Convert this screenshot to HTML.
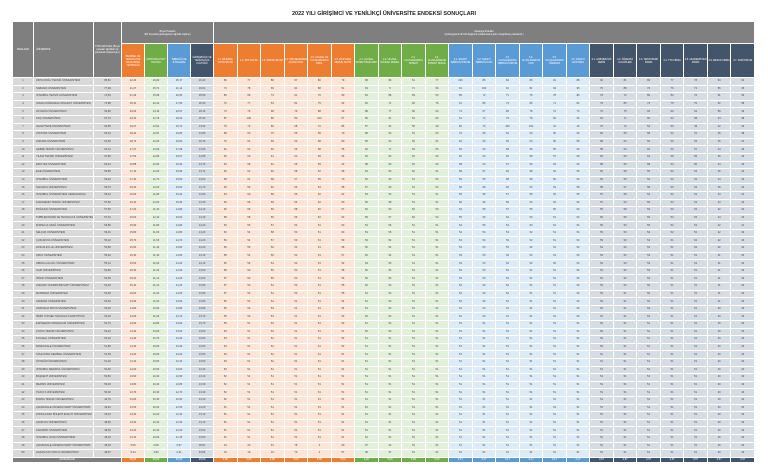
<!DOCTYPE html>
<html><head><meta charset="utf-8"><style>
body{margin:0;width:768px;height:475px;background:#fff;overflow:hidden;font-family:"Liberation Sans",sans-serif}
h1{position:absolute;top:11px;left:0;width:768px;text-align:center;font-size:5.5px;font-weight:bold;margin:0;color:#222}
table{position:absolute;left:12px;top:21px;width:743px;border-collapse:collapse;table-layout:fixed}
td{border:1px solid #fff;padding:0;font-size:2.6px;line-height:4px;text-align:center;overflow:hidden;white-space:nowrap;color:#444}
tr.d td{height:6.6px}
tr.d td:nth-child(2){text-align:left;padding-left:2px}
.h td{color:#fff;white-space:normal;font-size:2.4px;line-height:3px}
.g{background:#7f7f7f}.o{background:#ed7d31}.gr{background:#70ad47}.b{background:#5b9bd5}.n{background:#44546a}
col.c0{background:#d9d9d9}col.co{background:#fce4d6}col.cg{background:#e2efda}col.cb{background:#ddebf7}col.cn{background:#d6dce4}
tr.w td{height:4px;color:#fff}
</style></head><body>
<h1>2022 YILI GİRİŞİMCİ VE YENİLİKÇİ ÜNİVERSİTE ENDEKSİ SONUÇLARI</h1>
<table>
<colgroup><col class="c0" style="width:21px"><col class="c0" style="width:60px"><col class="c0" style="width:28px">
<col class="co" style="width:23px"><col class="cg" style="width:23px"><col class="cb" style="width:23px"><col class="cn" style="width:23px">
<col class="co"><col class="co"><col class="co"><col class="co"><col class="co"><col class="co">
<col class="cg"><col class="cg"><col class="cg"><col class="cg">
<col class="cb"><col class="cb"><col class="cb"><col class="cb"><col class="cb"><col class="cb">
<col class="cn"><col class="cn"><col class="cn"><col class="cn"><col class="cn"><col class="cn"><col class="cn">
</colgroup>
<tr class="h" style="height:22px"><td class="g" rowspan="2">SIRALAMA</td><td class="g" rowspan="2" style="text-align:left;padding-left:2px">ÜNİVERSİTE</td><td class="g" rowspan="2">TOPLAM PUAN (Boyut puanları ağırlıkları ile çarpılarak toplanmıştır.)</td><td class="g" colspan="4">Boyut Puanları<br>(Bir boyuttaki göstergelerin ağırlıklı toplamı)</td><td class="g" colspan="23">Gösterge Puanları<br>(Göstergelerin ilk 100 değerinin ortalamasına göre hesaplanan puanlardır.)</td></tr>
<tr class="h" style="height:34px"><td class="o">BİLİMSEL VE TEKNOLOJİK ARAŞTIRMA YETKİNLİĞİ</td><td class="gr">FİKRİ MÜLKİYET HAVUZU</td><td class="b">İŞBİRLİĞİ VE ETKİLEŞİM</td><td class="n">GİRİŞİMCİLİK VE YENİLİKÇİLİK KÜLTÜRÜ</td>
<td class="o">1.1. BİLİMSEL YAYIN SAYISI</td><td class="o">1.2. ATIF SAYISI</td><td class="o">1.3. PROJE SAYISI</td><td class="o">1.4. PROJELERDEN ALINAN FON</td><td class="o">1.5. ULUSAL VE ULUSLARARASI ÖDÜL</td><td class="o">1.6. DOKTORA MEZUN SAYISI</td>
<td class="gr">2.1. ULUSAL PATENT BAŞVURU</td><td class="gr">2.2. ULUSAL FAYDALI MODEL</td><td class="gr">2.3. ULUSLARARASI PATENT</td><td class="gr">2.4. ULUSLARARASI PATENT TESCİL</td>
<td class="b">3.1. SANAYİ İŞBİRLİĞİ PROJE</td><td class="b">3.2. SANAYİ İŞBİRLİĞİ FON</td><td class="b">3.3. ULUSLARARASI İŞBİRLİĞİ PROJE</td><td class="b">3.4. ULUSLARARASI FON</td><td class="b">3.5. ULUSLARARASI ÖĞRENCİ</td><td class="b">3.6. SANAYİ DOKTORA</td>
<td class="n">4.1. GİRİŞİMCİLİK DERSİ</td><td class="n">4.2. ÖĞRENCİ KULÜPLERİ</td><td class="n">4.3. TEKNOPARK FİRMA</td><td class="n">4.4. TTO FİRMA</td><td class="n">4.5. AKADEMİSYEN FİRMA</td><td class="n">4.6. MEZUN FİRMA</td><td class="n">4.7. KOBİ PROJE</td></tr>
<tr class="d"><td>1</td><td>ORTA DOĞU TEKNİK ÜNİVERSİTESİ</td><td>85,61</td><td>22,20</td><td>16,00</td><td>25,17</td><td>16,40</td><td>80</td><td>77</td><td>86</td><td>97</td><td>80</td><td>79</td><td>68</td><td>96</td><td>51</td><td>77</td><td>100</td><td>86</td><td>82</td><td>80</td><td>91</td><td>88</td><td>92</td><td>81</td><td>82</td><td>77</td><td>78</td><td>64</td><td>62</td></tr>
<tr class="d"><td>2</td><td>SABANCI ÜNİVERSİTESİ</td><td>77,09</td><td>21,27</td><td>15,71</td><td>21,11</td><td>19,01</td><td>74</td><td>78</td><td>69</td><td>91</td><td>88</td><td>51</td><td>63</td><td>5</td><td>71</td><td>96</td><td>91</td><td>100</td><td>91</td><td>81</td><td>93</td><td>95</td><td>70</td><td>88</td><td>72</td><td>76</td><td>71</td><td>56</td><td>45</td></tr>
<tr class="d"><td>3</td><td>İSTANBUL TEKNİK ÜNİVERSİTESİ</td><td>74,53</td><td>21,39</td><td>15,08</td><td>20,54</td><td>18,60</td><td>80</td><td>68</td><td>73</td><td>61</td><td>70</td><td>90</td><td>62</td><td>88</td><td>63</td><td>63</td><td>85</td><td>72</td><td>71</td><td>75</td><td>78</td><td>80</td><td>78</td><td>72</td><td>80</td><td>82</td><td>76</td><td>61</td><td>59</td></tr>
<tr class="d"><td>4</td><td>İHSAN DOĞRAMACI BİLKENT ÜNİVERSİTESİ</td><td>73,88</td><td>18,41</td><td>16,14</td><td>17,60</td><td>18,30</td><td>70</td><td>77</td><td>53</td><td>81</td><td>75</td><td>62</td><td>60</td><td>71</td><td>60</td><td>76</td><td>61</td><td>85</td><td>73</td><td>80</td><td>71</td><td>82</td><td>79</td><td>85</td><td>72</td><td>75</td><td>70</td><td>52</td><td>58</td></tr>
<tr class="d"><td>5</td><td>ÖZYEĞİN ÜNİVERSİTESİ</td><td>69,80</td><td>19,24</td><td>14,16</td><td>20,07</td><td>18,16</td><td>73</td><td>76</td><td>68</td><td>76</td><td>88</td><td>49</td><td>58</td><td>77</td><td>56</td><td>64</td><td>74</td><td>67</td><td>80</td><td>78</td><td>72</td><td>74</td><td>70</td><td>75</td><td>66</td><td>69</td><td>62</td><td>58</td><td>49</td></tr>
<tr class="d"><td>6</td><td>KOÇ ÜNİVERSİTESİ</td><td>67,73</td><td>22,30</td><td>12,79</td><td>18,23</td><td>15,32</td><td>87</td><td>100</td><td>68</td><td>80</td><td>100</td><td>57</td><td>60</td><td>51</td><td>54</td><td>66</td><td>51</td><td>73</td><td>79</td><td>78</td><td>92</td><td>64</td><td>63</td><td>71</td><td>60</td><td>62</td><td>58</td><td>44</td><td>38</td></tr>
<tr class="d"><td>7</td><td>HACETTEPE ÜNİVERSİTESİ</td><td>63,85</td><td>19,67</td><td>12,91</td><td>16,72</td><td>14,54</td><td>79</td><td>72</td><td>66</td><td>68</td><td>72</td><td>86</td><td>57</td><td>52</td><td>55</td><td>49</td><td>60</td><td>70</td><td>100</td><td>100</td><td>41</td><td>40</td><td>70</td><td>72</td><td>52</td><td>50</td><td>49</td><td>42</td><td>43</td></tr>
<tr class="d"><td>8</td><td>ATATÜRK ÜNİVERSİTESİ</td><td>63,10</td><td>18,42</td><td>12,97</td><td>16,85</td><td>14,86</td><td>68</td><td>60</td><td>75</td><td>55</td><td>56</td><td>70</td><td>58</td><td>63</td><td>51</td><td>60</td><td>70</td><td>68</td><td>62</td><td>60</td><td>56</td><td>66</td><td>60</td><td>55</td><td>58</td><td>52</td><td>51</td><td>45</td><td>48</td></tr>
<tr class="d"><td>9</td><td>ANKARA ÜNİVERSİTESİ</td><td>62,50</td><td>18,74</td><td>12,00</td><td>16,60</td><td>15,16</td><td>70</td><td>64</td><td>69</td><td>62</td><td>58</td><td>80</td><td>55</td><td>52</td><td>53</td><td>51</td><td>62</td><td>60</td><td>65</td><td>63</td><td>60</td><td>58</td><td>68</td><td>62</td><td>56</td><td>50</td><td>54</td><td>46</td><td>41</td></tr>
<tr class="d"><td>10</td><td>GEBZE TEKNİK ÜNİVERSİTESİ</td><td>62,10</td><td>17,27</td><td>13,09</td><td>17,08</td><td>14,66</td><td>62</td><td>62</td><td>60</td><td>65</td><td>58</td><td>56</td><td>62</td><td>71</td><td>54</td><td>55</td><td>65</td><td>66</td><td>58</td><td>56</td><td>55</td><td>60</td><td>58</td><td>54</td><td>62</td><td>60</td><td>57</td><td>44</td><td>46</td></tr>
<tr class="d"><td>11</td><td>YILDIZ TEKNİK ÜNİVERSİTESİ</td><td>61,80</td><td>17,52</td><td>12,86</td><td>16,57</td><td>14,85</td><td>65</td><td>60</td><td>61</td><td>62</td><td>56</td><td>66</td><td>60</td><td>63</td><td>52</td><td>54</td><td>60</td><td>62</td><td>60</td><td>58</td><td>57</td><td>59</td><td>60</td><td>60</td><td>62</td><td>58</td><td>55</td><td>45</td><td>42</td></tr>
<tr class="d"><td>12</td><td>ERCİYES ÜNİVERSİTESİ</td><td>60,44</td><td>16,88</td><td>12,50</td><td>16,30</td><td>14,76</td><td>63</td><td>58</td><td>62</td><td>55</td><td>55</td><td>62</td><td>58</td><td>60</td><td>52</td><td>52</td><td>58</td><td>60</td><td>57</td><td>56</td><td>54</td><td>60</td><td>58</td><td>56</td><td>58</td><td>54</td><td>56</td><td>44</td><td>40</td></tr>
<tr class="d"><td>13</td><td>EGE ÜNİVERSİTESİ</td><td>59,80</td><td>17,10</td><td>12,00</td><td>15,96</td><td>14,74</td><td>66</td><td>62</td><td>60</td><td>58</td><td>52</td><td>68</td><td>54</td><td>53</td><td>52</td><td>51</td><td>58</td><td>57</td><td>60</td><td>58</td><td>52</td><td>55</td><td>60</td><td>58</td><td>55</td><td>52</td><td>54</td><td>46</td><td>44</td></tr>
<tr class="d"><td>14</td><td>İSTANBUL ÜNİVERSİTESİ</td><td>59,20</td><td>17,40</td><td>11,70</td><td>15,50</td><td>14,60</td><td>68</td><td>64</td><td>58</td><td>57</td><td>55</td><td>70</td><td>52</td><td>50</td><td>51</td><td>50</td><td>55</td><td>55</td><td>58</td><td>56</td><td>56</td><td>54</td><td>62</td><td>55</td><td>54</td><td>52</td><td>52</td><td>44</td><td>42</td></tr>
<tr class="d"><td>15</td><td>SAKARYA ÜNİVERSİTESİ</td><td>58,70</td><td>16,20</td><td>12,20</td><td>15,60</td><td>14,70</td><td>60</td><td>56</td><td>60</td><td>55</td><td>53</td><td>58</td><td>57</td><td>60</td><td>51</td><td>52</td><td>56</td><td>58</td><td>56</td><td>54</td><td>53</td><td>58</td><td>58</td><td>57</td><td>58</td><td>55</td><td>54</td><td>45</td><td>44</td></tr>
<tr class="d"><td>16</td><td>İSTANBUL ÜNİVERSİTESİ-CERRAHPAŞA</td><td>58,10</td><td>16,60</td><td>11,80</td><td>15,20</td><td>14,50</td><td>64</td><td>60</td><td>58</td><td>56</td><td>52</td><td>62</td><td>53</td><td>52</td><td>51</td><td>51</td><td>55</td><td>56</td><td>57</td><td>55</td><td>52</td><td>55</td><td>57</td><td>55</td><td>54</td><td>52</td><td>53</td><td>43</td><td>41</td></tr>
<tr class="d"><td>17</td><td>KARADENİZ TEKNİK ÜNİVERSİTESİ</td><td>57,80</td><td>16,10</td><td>12,00</td><td>15,30</td><td>14,40</td><td>60</td><td>56</td><td>59</td><td>54</td><td>52</td><td>60</td><td>55</td><td>58</td><td>51</td><td>51</td><td>56</td><td>56</td><td>55</td><td>54</td><td>52</td><td>56</td><td>57</td><td>54</td><td>56</td><td>53</td><td>53</td><td>43</td><td>42</td></tr>
<tr class="d"><td>18</td><td>BOĞAZİÇİ ÜNİVERSİTESİ</td><td>57,50</td><td>17,20</td><td>11,40</td><td>14,80</td><td>14,10</td><td>66</td><td>66</td><td>56</td><td>58</td><td>60</td><td>57</td><td>52</td><td>50</td><td>52</td><td>50</td><td>53</td><td>55</td><td>57</td><td>55</td><td>56</td><td>52</td><td>55</td><td>58</td><td>52</td><td>50</td><td>52</td><td>42</td><td>40</td></tr>
<tr class="d"><td>19</td><td>TOBB EKONOMİ VE TEKNOLOJİ ÜNİVERSİTESİ</td><td>57,10</td><td>15,60</td><td>12,10</td><td>15,00</td><td>14,40</td><td>58</td><td>58</td><td>55</td><td>56</td><td>52</td><td>52</td><td>56</td><td>57</td><td>52</td><td>52</td><td>55</td><td>56</td><td>54</td><td>53</td><td>51</td><td>54</td><td>56</td><td>55</td><td>56</td><td>53</td><td>54</td><td>44</td><td>42</td></tr>
<tr class="d"><td>20</td><td>BURSA ULUDAĞ ÜNİVERSİTESİ</td><td>56,80</td><td>15,90</td><td>11,80</td><td>14,90</td><td>14,20</td><td>60</td><td>55</td><td>57</td><td>54</td><td>51</td><td>60</td><td>54</td><td>56</td><td>51</td><td>51</td><td>54</td><td>55</td><td>54</td><td>53</td><td>51</td><td>54</td><td>55</td><td>53</td><td>55</td><td>52</td><td>52</td><td>42</td><td>41</td></tr>
<tr class="d"><td>21</td><td>SELÇUK ÜNİVERSİTESİ</td><td>56,40</td><td>15,80</td><td>11,60</td><td>14,80</td><td>14,20</td><td>60</td><td>54</td><td>58</td><td>53</td><td>51</td><td>60</td><td>53</td><td>55</td><td>51</td><td>51</td><td>54</td><td>54</td><td>53</td><td>52</td><td>51</td><td>54</td><td>55</td><td>53</td><td>54</td><td>52</td><td>52</td><td>42</td><td>40</td></tr>
<tr class="d"><td>22</td><td>ÇUKUROVA ÜNİVERSİTESİ</td><td>56,10</td><td>15,70</td><td>11,50</td><td>14,70</td><td>14,20</td><td>59</td><td>54</td><td>57</td><td>53</td><td>51</td><td>59</td><td>53</td><td>54</td><td>51</td><td>51</td><td>53</td><td>54</td><td>53</td><td>52</td><td>51</td><td>53</td><td>55</td><td>52</td><td>54</td><td>51</td><td>52</td><td>42</td><td>40</td></tr>
<tr class="d"><td>23</td><td>DOKUZ EYLÜL ÜNİVERSİTESİ</td><td>55,80</td><td>15,60</td><td>11,40</td><td>14,60</td><td>14,20</td><td>59</td><td>55</td><td>56</td><td>53</td><td>51</td><td>58</td><td>52</td><td>54</td><td>51</td><td>51</td><td>53</td><td>53</td><td>53</td><td>52</td><td>51</td><td>53</td><td>54</td><td>52</td><td>53</td><td>51</td><td>52</td><td>42</td><td>40</td></tr>
<tr class="d"><td>24</td><td>FIRAT ÜNİVERSİTESİ</td><td>55,40</td><td>15,40</td><td>11,40</td><td>14,50</td><td>14,10</td><td>58</td><td>54</td><td>56</td><td>52</td><td>51</td><td>57</td><td>52</td><td>54</td><td>51</td><td>51</td><td>53</td><td>53</td><td>52</td><td>52</td><td>51</td><td>53</td><td>54</td><td>52</td><td>53</td><td>51</td><td>51</td><td>41</td><td>40</td></tr>
<tr class="d"><td>25</td><td>ABDULLAH GÜL ÜNİVERSİTESİ</td><td>55,10</td><td>15,00</td><td>11,60</td><td>14,40</td><td>14,10</td><td>56</td><td>56</td><td>54</td><td>52</td><td>51</td><td>52</td><td>53</td><td>55</td><td>51</td><td>51</td><td>53</td><td>53</td><td>52</td><td>52</td><td>52</td><td>53</td><td>54</td><td>53</td><td>53</td><td>51</td><td>51</td><td>41</td><td>40</td></tr>
<tr class="d"><td>26</td><td>GAZİ ÜNİVERSİTESİ</td><td>54,80</td><td>15,30</td><td>11,20</td><td>14,30</td><td>14,00</td><td>58</td><td>53</td><td>55</td><td>52</td><td>51</td><td>58</td><td>52</td><td>53</td><td>51</td><td>51</td><td>52</td><td>53</td><td>52</td><td>51</td><td>51</td><td>52</td><td>54</td><td>52</td><td>53</td><td>51</td><td>51</td><td>41</td><td>40</td></tr>
<tr class="d"><td>27</td><td>İNÖNÜ ÜNİVERSİTESİ</td><td>54,50</td><td>15,20</td><td>11,10</td><td>14,20</td><td>14,00</td><td>57</td><td>53</td><td>55</td><td>52</td><td>51</td><td>56</td><td>52</td><td>53</td><td>51</td><td>51</td><td>52</td><td>52</td><td>52</td><td>51</td><td>51</td><td>52</td><td>53</td><td>52</td><td>52</td><td>51</td><td>51</td><td>41</td><td>40</td></tr>
<tr class="d"><td>28</td><td>ANKARA YILDIRIM BEYAZIT ÜNİVERSİTESİ</td><td>54,20</td><td>15,10</td><td>11,10</td><td>14,10</td><td>13,90</td><td>57</td><td>53</td><td>54</td><td>52</td><td>51</td><td>55</td><td>52</td><td>53</td><td>51</td><td>51</td><td>52</td><td>52</td><td>52</td><td>51</td><td>51</td><td>52</td><td>53</td><td>52</td><td>52</td><td>51</td><td>51</td><td>41</td><td>40</td></tr>
<tr class="d"><td>29</td><td>MARMARA ÜNİVERSİTESİ</td><td>53,90</td><td>15,00</td><td>11,00</td><td>14,00</td><td>13,90</td><td>57</td><td>52</td><td>54</td><td>52</td><td>51</td><td>55</td><td>51</td><td>52</td><td>51</td><td>51</td><td>52</td><td>52</td><td>52</td><td>51</td><td>51</td><td>52</td><td>53</td><td>51</td><td>52</td><td>51</td><td>51</td><td>41</td><td>40</td></tr>
<tr class="d"><td>30</td><td>AKDENİZ ÜNİVERSİTESİ</td><td>53,60</td><td>14,90</td><td>11,00</td><td>13,90</td><td>13,80</td><td>56</td><td>52</td><td>54</td><td>51</td><td>51</td><td>54</td><td>51</td><td>52</td><td>51</td><td>51</td><td>52</td><td>52</td><td>51</td><td>51</td><td>51</td><td>52</td><td>53</td><td>51</td><td>52</td><td>51</td><td>51</td><td>41</td><td>40</td></tr>
<tr class="d"><td>31</td><td>ONDOKUZ MAYIS ÜNİVERSİTESİ</td><td>53,30</td><td>14,80</td><td>10,90</td><td>13,80</td><td>13,80</td><td>56</td><td>52</td><td>53</td><td>51</td><td>51</td><td>54</td><td>51</td><td>52</td><td>51</td><td>51</td><td>51</td><td>52</td><td>51</td><td>51</td><td>51</td><td>52</td><td>52</td><td>51</td><td>52</td><td>51</td><td>51</td><td>40</td><td>40</td></tr>
<tr class="d"><td>32</td><td>İZMİR YÜKSEK TEKNOLOJİ ENSTİTÜSÜ</td><td>53,00</td><td>14,60</td><td>11,00</td><td>13,70</td><td>13,70</td><td>55</td><td>53</td><td>53</td><td>51</td><td>51</td><td>52</td><td>52</td><td>52</td><td>51</td><td>51</td><td>51</td><td>52</td><td>51</td><td>51</td><td>51</td><td>52</td><td>52</td><td>51</td><td>52</td><td>51</td><td>51</td><td>40</td><td>40</td></tr>
<tr class="d"><td>33</td><td>ESKİŞEHİR OSMANGAZİ ÜNİVERSİTESİ</td><td>52,70</td><td>14,60</td><td>10,80</td><td>13,60</td><td>13,70</td><td>55</td><td>51</td><td>53</td><td>51</td><td>51</td><td>53</td><td>51</td><td>52</td><td>51</td><td>51</td><td>51</td><td>51</td><td>51</td><td>51</td><td>51</td><td>51</td><td>52</td><td>51</td><td>51</td><td>51</td><td>51</td><td>40</td><td>40</td></tr>
<tr class="d"><td>34</td><td>KONYA TEKNİK ÜNİVERSİTESİ</td><td>52,40</td><td>14,40</td><td>10,90</td><td>13,50</td><td>13,60</td><td>54</td><td>51</td><td>53</td><td>51</td><td>51</td><td>51</td><td>52</td><td>52</td><td>51</td><td>51</td><td>51</td><td>51</td><td>51</td><td>51</td><td>51</td><td>51</td><td>52</td><td>51</td><td>51</td><td>51</td><td>51</td><td>40</td><td>40</td></tr>
<tr class="d"><td>35</td><td>KOCAELİ ÜNİVERSİTESİ</td><td>52,10</td><td>14,40</td><td>10,70</td><td>13,40</td><td>13,60</td><td>54</td><td>51</td><td>52</td><td>51</td><td>51</td><td>52</td><td>51</td><td>51</td><td>51</td><td>51</td><td>51</td><td>51</td><td>51</td><td>51</td><td>51</td><td>51</td><td>52</td><td>51</td><td>51</td><td>51</td><td>51</td><td>40</td><td>40</td></tr>
<tr class="d"><td>36</td><td>PAMUKKALE ÜNİVERSİTESİ</td><td>51,80</td><td>14,30</td><td>10,60</td><td>13,30</td><td>13,60</td><td>54</td><td>51</td><td>52</td><td>51</td><td>51</td><td>52</td><td>51</td><td>51</td><td>51</td><td>51</td><td>51</td><td>51</td><td>51</td><td>51</td><td>51</td><td>51</td><td>52</td><td>51</td><td>51</td><td>51</td><td>51</td><td>40</td><td>40</td></tr>
<tr class="d"><td>37</td><td>SÜLEYMAN DEMİREL ÜNİVERSİTESİ</td><td>51,50</td><td>14,20</td><td>10,60</td><td>13,20</td><td>13,50</td><td>53</td><td>51</td><td>52</td><td>51</td><td>51</td><td>51</td><td>51</td><td>51</td><td>51</td><td>51</td><td>51</td><td>51</td><td>51</td><td>51</td><td>51</td><td>51</td><td>51</td><td>51</td><td>51</td><td>51</td><td>51</td><td>40</td><td>40</td></tr>
<tr class="d"><td>38</td><td>ÖZYEĞİN ÜNİVERSİTESİ</td><td>51,20</td><td>14,10</td><td>10,50</td><td>13,10</td><td>13,50</td><td>53</td><td>51</td><td>52</td><td>51</td><td>51</td><td>51</td><td>51</td><td>51</td><td>51</td><td>51</td><td>51</td><td>51</td><td>51</td><td>51</td><td>51</td><td>51</td><td>51</td><td>51</td><td>51</td><td>51</td><td>51</td><td>40</td><td>40</td></tr>
<tr class="d"><td>39</td><td>İSTANBUL MEDİPOL ÜNİVERSİTESİ</td><td>50,90</td><td>14,00</td><td>10,50</td><td>13,00</td><td>13,40</td><td>53</td><td>51</td><td>51</td><td>51</td><td>51</td><td>51</td><td>51</td><td>51</td><td>51</td><td>51</td><td>51</td><td>51</td><td>51</td><td>51</td><td>51</td><td>51</td><td>51</td><td>51</td><td>51</td><td>51</td><td>51</td><td>40</td><td>40</td></tr>
<tr class="d"><td>40</td><td>BAŞKENT ÜNİVERSİTESİ</td><td>50,60</td><td>13,90</td><td>10,40</td><td>12,90</td><td>13,40</td><td>52</td><td>51</td><td>51</td><td>51</td><td>51</td><td>51</td><td>51</td><td>51</td><td>51</td><td>51</td><td>51</td><td>51</td><td>51</td><td>51</td><td>51</td><td>51</td><td>51</td><td>51</td><td>51</td><td>51</td><td>51</td><td>40</td><td>40</td></tr>
<tr class="d"><td>41</td><td>MERSİN ÜNİVERSİTESİ</td><td>50,30</td><td>13,80</td><td>10,40</td><td>12,80</td><td>13,30</td><td>52</td><td>51</td><td>51</td><td>51</td><td>51</td><td>51</td><td>51</td><td>51</td><td>51</td><td>51</td><td>51</td><td>51</td><td>51</td><td>51</td><td>51</td><td>51</td><td>51</td><td>51</td><td>51</td><td>51</td><td>51</td><td>40</td><td>40</td></tr>
<tr class="d"><td>42</td><td>TRAKYA ÜNİVERSİTESİ</td><td>50,00</td><td>13,70</td><td>10,30</td><td>12,70</td><td>13,30</td><td>52</td><td>51</td><td>51</td><td>51</td><td>51</td><td>51</td><td>51</td><td>51</td><td>51</td><td>51</td><td>51</td><td>51</td><td>51</td><td>51</td><td>51</td><td>51</td><td>51</td><td>51</td><td>51</td><td>51</td><td>51</td><td>40</td><td>40</td></tr>
<tr class="d"><td>43</td><td>BURSA TEKNİK ÜNİVERSİTESİ</td><td>49,70</td><td>13,60</td><td>10,30</td><td>12,60</td><td>13,20</td><td>52</td><td>51</td><td>51</td><td>51</td><td>51</td><td>51</td><td>51</td><td>51</td><td>51</td><td>51</td><td>51</td><td>51</td><td>51</td><td>51</td><td>51</td><td>51</td><td>51</td><td>51</td><td>51</td><td>51</td><td>51</td><td>40</td><td>40</td></tr>
<tr class="d"><td>44</td><td>ÇANAKKALE ONSEKİZ MART ÜNİVERSİTESİ</td><td>49,40</td><td>13,50</td><td>10,20</td><td>12,50</td><td>13,20</td><td>51</td><td>51</td><td>51</td><td>51</td><td>51</td><td>51</td><td>51</td><td>51</td><td>51</td><td>51</td><td>51</td><td>51</td><td>51</td><td>51</td><td>51</td><td>51</td><td>51</td><td>51</td><td>51</td><td>51</td><td>51</td><td>40</td><td>40</td></tr>
<tr class="d"><td>45</td><td>ZONGULDAK BÜLENT ECEVİT ÜNİVERSİTESİ</td><td>49,10</td><td>13,40</td><td>10,20</td><td>12,40</td><td>13,10</td><td>51</td><td>51</td><td>51</td><td>51</td><td>51</td><td>51</td><td>51</td><td>51</td><td>51</td><td>51</td><td>51</td><td>51</td><td>51</td><td>51</td><td>51</td><td>51</td><td>51</td><td>51</td><td>51</td><td>51</td><td>51</td><td>40</td><td>40</td></tr>
<tr class="d"><td>46</td><td>ÇANKAYA ÜNİVERSİTESİ</td><td>48,80</td><td>13,30</td><td>10,10</td><td>12,30</td><td>13,10</td><td>51</td><td>51</td><td>51</td><td>51</td><td>51</td><td>51</td><td>51</td><td>51</td><td>51</td><td>51</td><td>51</td><td>51</td><td>51</td><td>51</td><td>51</td><td>51</td><td>51</td><td>51</td><td>51</td><td>51</td><td>51</td><td>40</td><td>40</td></tr>
<tr class="d"><td>47</td><td>KARABÜK ÜNİVERSİTESİ</td><td>48,50</td><td>13,20</td><td>10,10</td><td>12,20</td><td>13,00</td><td>51</td><td>51</td><td>51</td><td>51</td><td>51</td><td>51</td><td>51</td><td>51</td><td>51</td><td>51</td><td>51</td><td>51</td><td>51</td><td>51</td><td>51</td><td>51</td><td>51</td><td>51</td><td>51</td><td>51</td><td>51</td><td>40</td><td>40</td></tr>
<tr class="d"><td>48</td><td>İSTANBUL OKAN ÜNİVERSİTESİ</td><td>48,20</td><td>13,10</td><td>10,00</td><td>12,10</td><td>13,00</td><td>51</td><td>51</td><td>51</td><td>51</td><td>51</td><td>51</td><td>51</td><td>51</td><td>51</td><td>51</td><td>51</td><td>51</td><td>51</td><td>51</td><td>51</td><td>51</td><td>51</td><td>51</td><td>51</td><td>51</td><td>51</td><td>40</td><td>40</td></tr>
<tr class="d"><td>49</td><td>ÇANAKKALE ONSEKİZ MART ÜNİVERSİTESİ</td><td>48,03</td><td>5,59</td><td>6,08</td><td>6,97</td><td>18,01</td><td>24</td><td>23</td><td>31</td><td>78</td><td>4</td><td>60</td><td>37</td><td>22</td><td>51</td><td>51</td><td>51</td><td>51</td><td>51</td><td>51</td><td>51</td><td>51</td><td>51</td><td>51</td><td>51</td><td>51</td><td>51</td><td>40</td><td>40</td></tr>
<tr class="d"><td>50</td><td>HASAN KALYONCU ÜNİVERSİTESİ</td><td>48,07</td><td>5,34</td><td>4,80</td><td>6,41</td><td>30,86</td><td>15</td><td>19</td><td>16</td><td>70</td><td>4</td><td>57</td><td>38</td><td>37</td><td>51</td><td>51</td><td>51</td><td>51</td><td>51</td><td>51</td><td>51</td><td>51</td><td>51</td><td>51</td><td>51</td><td>51</td><td>51</td><td>40</td><td>40</td></tr>
<tr class="w"><td class="g" colspan="3">AĞIRLIKLAR</td><td class="o">30,00</td><td class="gr">20,00</td><td class="b">25,00</td><td class="n">25,00</td><td class="o">5,00</td><td class="o">5,00</td><td class="o">5,00</td><td class="o">5,00</td><td class="o">5,00</td><td class="o">5,00</td><td class="gr">5,00</td><td class="gr">5,00</td><td class="gr">5,00</td><td class="gr">5,00</td><td class="b">4,17</td><td class="b">4,17</td><td class="b">4,17</td><td class="b">4,17</td><td class="b">4,17</td><td class="b">4,17</td><td class="n">3,57</td><td class="n">3,57</td><td class="n">3,57</td><td class="n">3,57</td><td class="n">3,57</td><td class="n">3,57</td><td class="n">3,57</td></tr>
</table>
</body></html>
